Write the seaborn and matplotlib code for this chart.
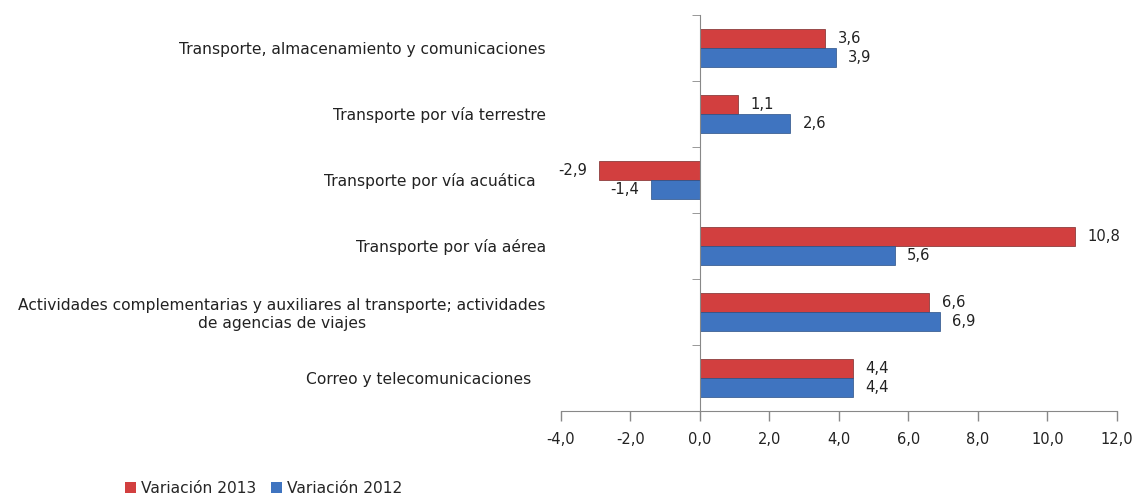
import pandas as pd
import seaborn as sns
import matplotlib.pyplot as plt
from matplotlib.patches import Patch
from matplotlib.ticker import FixedLocator, FuncFormatter

categorias = [
    "Transporte, almacenamiento y comunicaciones",
    "Transporte por vía terrestre",
    "Transporte por vía acuática  ",
    "Transporte por vía aérea",
    "Actividades complementarias y auxiliares al transporte; actividades\nde agencias de viajes",
    "Correo y telecomunicaciones   ",
]
var_2013 = [3.6, 1.1, -2.9, 10.8, 6.6, 4.4]
var_2012 = [3.9, 2.6, -1.4, 5.6, 6.9, 4.4]
series = ["Variación 2013", "Variación 2012"]
colores = {"Variación 2013": "#D23F3F", "Variación 2012": "#3F74C0"}

df = pd.DataFrame({
    "categoria": categorias * 2,
    "serie": [series[0]] * len(categorias) + [series[1]] * len(categorias),
    "valor": var_2013 + var_2012,
})

sns.set_style("white")
plt.rcParams['font.family'] = ['DejaVu Sans']

fig = plt.figure(figsize=(11.34, 4.99), dpi=100)
ax = fig.add_axes([0.4947, 0.1764, 0.4903, 0.7936])

sns.barplot(data=df, y="categoria", x="valor", hue="serie", hue_order=series,
            order=categorias, palette=colores, orient="h", width=0.58,
            saturation=1, edgecolor="#7a2a2a", linewidth=0.5, legend=False, ax=ax)

# bordes más oscuros para la serie azul
for bar in ax.containers[1]:
    bar.set_edgecolor("#2a4f85")

for cont in ax.containers:
    vals = cont.datavalues
    ax.bar_label(cont, labels=[f"{v:.1f}".replace(".", ",") for v in vals],
                 padding=9, fontsize=10.6, color="#222222")

ax.set_xlim(-4, 12)
ax.set_ylim(len(categorias) - 0.5, -0.5)
ax.set_xticks(range(-4, 13, 2))
ax.xaxis.set_major_formatter(FuncFormatter(lambda v, p: f"{v:.1f}".replace(".", ",")))
ax.tick_params(axis="x", direction="out", length=7, width=1, color="#888888",
               labelsize=10.5, labelcolor="#222222", pad=8, bottom=True)

ax.tick_params(axis="y", which="major", length=0, labelsize=11.2,
               labelcolor="#222222", pad=11)

# eje vertical en cero con marcas entre categorías
ax.spines["right"].set_position(("data", 0))
ax.spines["right"].set_visible(True)
ax.spines["right"].set_color("#888888")
ax.yaxis.set_minor_locator(FixedLocator([i - 0.5 for i in range(len(categorias) + 1)]))
ax.tick_params(axis="y", which="minor", left=False, right=True, direction="in",
               length=6, color="#888888")
ax.spines["left"].set_visible(False)
ax.spines["top"].set_visible(False)
ax.spines["bottom"].set_color("#888888")
ax.set_xlabel("")
ax.set_ylabel("")

handles = [Patch(facecolor=colores[s], edgecolor="none") for s in series]
fig.legend(handles, series, loc="lower left", bbox_to_anchor=(0.098, -0.022),
           ncol=2, frameon=False, fontsize=11.2, handlelength=0.7, handleheight=0.7,
           handletextpad=0.3, columnspacing=1.0)

# texto de varias líneas centrado
fig.canvas.draw()
for lbl in ax.get_yticklabels():
    lbl.set_multialignment("center")

fig.savefig("out.png", dpi=100)
